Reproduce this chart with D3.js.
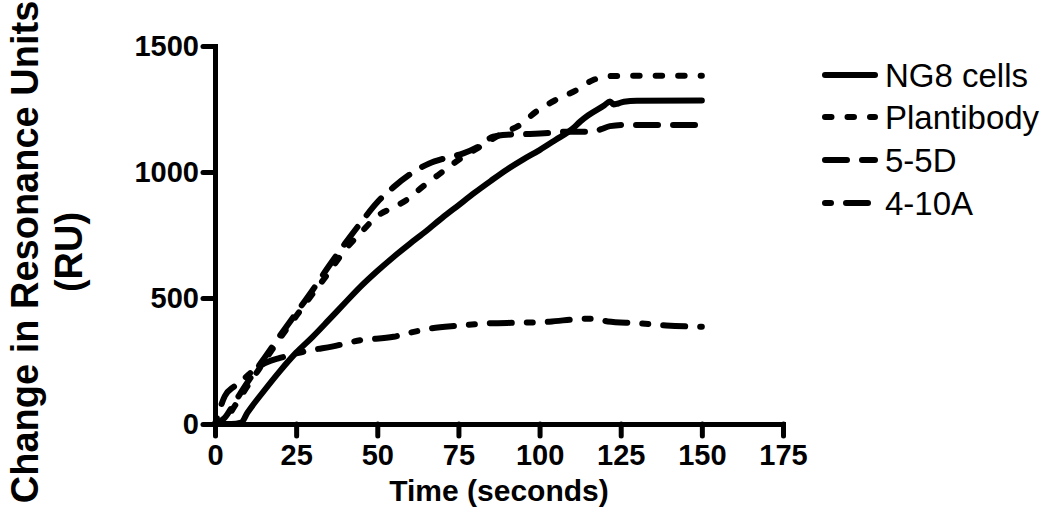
<!DOCTYPE html>
<html><head><meta charset="utf-8">
<script src="https://cdn.jsdelivr.net/npm/d3@7"></script>
<style>
html,body{margin:0;padding:0;background:#fff;}
svg{display:block;font-family:"Liberation Sans",Arial,sans-serif;}
</style></head>
<body>
<svg id="chart" width="1050" height="515"></svg>
<script>
// ---- data ----
const seriesNames = ["NG8 cells", "Plantibody", "5-5D", "4-10A"];
const xTicks = [0, 25, 50, 75, 100, 125, 150, 175];
const yTicks = [0, 500, 1000, 1500];

const ng8Time = [0,5,8,10,15,20,25,30,35,40,45,50,55,60,65,70,75,80,85,90,95,100,105,110,112.5,115,120,121.7,122.8,124,126,130,150];
const ng8Vals = [0,0,5,45,130,210,283,345,412,480,547,607,663,715,765,818,868,918,965,1010,1050,1087,1128,1170,1200,1225,1265,1280,1268,1271,1279,1283,1284];

const plantTime = [0,3,6,10,15,20,25,30,35,40,45,50,55,59,64,70,76.5,81.6,88,94,99,105,111.4,116.5,122.7,135,150];
const plantVals = [0,15,70,150,245,340,428,515,600,690,760,825,860,889,942,1000,1061,1100,1150,1187,1240,1286,1325,1365,1381,1382,1382];

const d55Time = [0,3,6,10,15,20,25,30,35,40,45,50,55,60,66,71,76.5,81,85.7,90,97,103,108,116.5,119,121.7,126,150];
const d55Vals = [0,25,85,165,258,350,440,530,625,715,800,880,940,990,1034,1055,1074,1100,1140,1148,1151,1155,1160,1160,1170,1182,1187,1187];

const a410Time = [0,1,3,6,9,12,16,20,25,30,36,45,55,60,66,75,85,94,103,112.5,117,121,130,139,150];
const a410Vals = [0,40,110,150,180,215,245,262,280,294,307,333,346,362,378,390,400,402,406,417,418,407,400,391,386];

// ---- layout ----
const svg = d3.select("#chart");
const x = d3.scaleLinear().domain([0, 175]).range([215, 783]);
const y = d3.scaleLinear().domain([0, 1500]).range([424, 46]);

const dashes = ["none", "6.5,16", "22,15", "6,15,22,15"];
const series = [
  {name: seriesNames[0], t: ng8Time, v: ng8Vals, dash: dashes[0]},
  {name: seriesNames[1], t: plantTime, v: plantVals, dash: dashes[1]},
  {name: seriesNames[2], t: d55Time, v: d55Vals, dash: dashes[2]},
  {name: seriesNames[3], t: a410Time, v: a410Vals, dash: dashes[3]}
];

// axes
const xAxis = svg.append("g").attr("transform", `translate(0,${y(0)})`)
  .call(d3.axisBottom(x).tickValues(xTicks).tickFormat(d3.format("d")).tickSize(12).tickSizeOuter(0).tickPadding(8));
const yAxis = svg.append("g").attr("transform", `translate(${x(0)},0)`)
  .call(d3.axisLeft(y).tickValues(yTicks).tickFormat(d3.format("d")).tickSize(12).tickSizeOuter(0).tickPadding(4));

[xAxis, yAxis].forEach(g => {
  g.select(".domain").attr("stroke", "#000").attr("stroke-width", 5).attr("stroke-linecap", "square");
  g.selectAll(".tick line").attr("stroke", "#000").attr("stroke-width", 5).attr("stroke-linecap", "round");
  g.selectAll(".tick text").attr("fill", "#000").attr("font-size", 29).attr("font-weight", "bold")
    .attr("font-family", "'Liberation Sans', Arial, sans-serif");
});
xAxis.selectAll(".tick text").attr("dy", "0.71em");

// lines
const line = d3.line().x(d => x(d[0])).y(d => y(d[1])).curve(d3.curveMonotoneX);
series.forEach(s => {
  const pts = s.t.map((t, i) => [t, s.v[i]]);
  svg.append("path").datum(pts)
    .attr("d", line)
    .attr("fill", "none")
    .attr("stroke", "#000")
    .attr("stroke-width", 6)
    .attr("stroke-linecap", "round")
    .attr("stroke-linejoin", "round")
    .attr("stroke-dasharray", s.dash);
});

// axis titles
svg.append("text").attr("x", (x(0) + x(175)) / 2).attr("y", 501)
  .attr("text-anchor", "middle").attr("font-size", 30).attr("font-weight", "bold")
  .text("Time (seconds)");
const yt = svg.append("text").attr("transform", "translate(0,252) rotate(-90)")
  .attr("text-anchor", "middle").attr("font-size", 38).attr("font-weight", "bold");
yt.append("tspan").attr("x", 0).attr("y", 38).text("Change in Resonance Units");
yt.append("tspan").attr("x", 0).attr("y", 82).text("(RU)");

// legend
const legY = [75, 117, 160, 203];
series.forEach((s, i) => {
  svg.append("line").attr("x1", 825).attr("x2", 875).attr("y1", legY[i]).attr("y2", legY[i])
    .attr("stroke", "#000").attr("stroke-width", 6).attr("stroke-linecap", "round")
    .attr("stroke-dasharray", s.dash);
  svg.append("text").attr("x", 885).attr("y", legY[i] + 12).attr("font-size", 33)
    .attr("fill", "#000").text(s.name);
});
</script>
</body></html>
